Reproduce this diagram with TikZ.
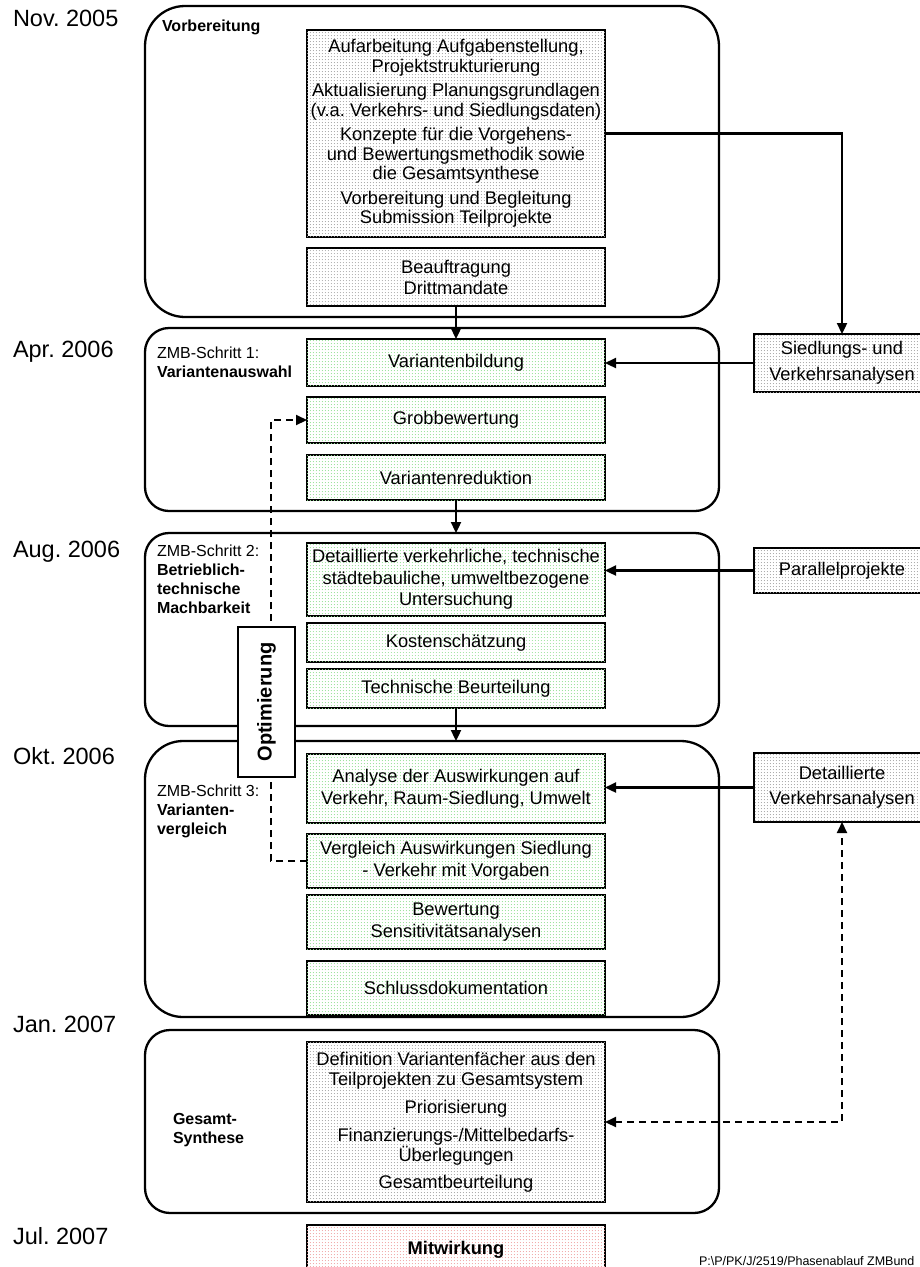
\documentclass[tikz,border=0pt]{standalone}
\usepackage{fontspec}
\setmainfont{Liberation Sans}
\usetikzlibrary{arrows.meta,patterns.meta}
\frenchspacing
\tikzdeclarepattern{name=dotgrid, type=uncolored, tile size={(3.4pt,3.4pt)}, bounding box={(0pt,0pt) and (3.4pt,3.4pt)}, code={\pgfpathcircle{\pgfqpoint{1.7pt}{1.7pt}}{0.6pt}\pgfusepath{fill}}}
\definecolor{dotgray}{RGB}{165,165,165}
\definecolor{dotgreen}{RGB}{150,225,150}
\definecolor{dotpink}{RGB}{240,165,165}
\begin{document}
\begin{tikzpicture}[x=1pt,y=-1pt,
  every node/.style={inner sep=0pt, outer sep=0pt},
  phase/.style={draw, line width=2.3pt, anchor=north west, minimum width=574pt},
  box/.style={draw, line width=2.3pt, anchor=north west, align=center, fill=white, minimum width=298pt, font=\fontsize{18.3}{20}\selectfont},
  graybox/.style={box, postaction={pattern=dotgrid, pattern color=dotgray}},
  greenbox/.style={box, postaction={pattern=dotgrid, pattern color=dotgreen}},
  pinkbox/.style={box, postaction={pattern=dotgrid, pattern color=dotpink}},
  sidebox/.style={graybox, minimum width=176pt},
  datelabel/.style={anchor=base west, font=\fontsize{23.5}{28}\selectfont},
  plabel/.style={anchor=base west, align=left, font=\fontsize{16}{19}\selectfont},
  arr/.style={line width=2.3pt, -{Triangle[length=11pt,width=10pt]}},
  dsh/.style={line width=2.1pt, dash pattern=on 7pt off 5pt},
]
\useasboundingbox (0,0) rectangle (920,1267);

% phases
\node[phase, rounded corners=40pt, minimum height=311pt] (ph1) at (145,6) {};
\node[phase, rounded corners=24pt, minimum height=183pt] (ph2) at (145,328) {};
\node[phase, rounded corners=24pt, minimum height=193pt] (ph3) at (145,533) {};
\node[phase, rounded corners=38pt, minimum height=276pt] (ph4) at (145,741) {};
\node[phase, rounded corners=25pt, minimum height=183pt] (ph5) at (145,1030) {};

% dates
\node[datelabel] (d1) at (13,26) {Nov. 2005};
\node[datelabel] (d2) at (13,357) {Apr. 2006};
\node[datelabel] (d3) at (13,557) {Aug. 2006};
\node[datelabel] (d4) at (13,764) {Okt. 2006};
\node[datelabel] (d5) at (13,1032) {Jan. 2007};
\node[datelabel] (d6) at (13,1244) {Jul. 2007};

% phase labels (anchor = baseline of last line)
\node[plabel, font=\bfseries\fontsize{16}{19}\selectfont] (l1) at (162,31) {Vorbereitung};
\node[plabel] (l2) at (157,377) {ZMB-Schritt 1:\\\textbf{Variantenauswahl}};
\node[plabel] (l3) at (157,613) {ZMB-Schritt 2:\\\textbf{Betrieblich-}\\\textbf{technische}\\\textbf{Machbarkeit}};
\node[plabel] (l4) at (157,834) {ZMB-Schritt 3:\\\textbf{Varianten-}\\\textbf{vergleich}};
\node[plabel, font=\bfseries\fontsize{16}{19}\selectfont] (l5) at (173,1143) {Gesamt-\\Synthese};

% inner boxes
\node[graybox, minimum height=207pt, font=\fontsize{18.3}{19.5}\selectfont] (vb) at (307,30)
  {Aufarbeitung Aufgabenstellung,\\Projektstrukturierung\\[5pt]Aktualisierung Planungsgrundlagen\\(v.a. Verkehrs- und Siedlungsdaten)\\[5pt]Konzepte für die Vorgehens-\\und Bewertungsmethodik sowie\\die Gesamtsynthese\\[5pt]Vorbereitung und Begleitung\\Submission Teilprojekte};
\node[graybox, minimum height=58pt, font=\fontsize{18.3}{21}\selectfont] (bf) at (307,248) {Beauftragung\\Drittmandate};

\node[greenbox, minimum height=47pt] (vbild) at (307,339) {Variantenbildung};
\node[greenbox, minimum height=46pt] (grob) at (307,397) {Grobbewertung};
\node[greenbox, minimum height=45pt] (vred) at (307,455) {Variantenreduktion};

\node[greenbox, minimum height=73pt, font=\fontsize{18.3}{21.5}\selectfont] (detu) at (307,543) {Detaillierte verkehrliche, technische\\städtebauliche, umweltbezogene\\Untersuchung};
\node[greenbox, minimum height=39pt] (kost) at (307,623) {Kostenschätzung};
\node[greenbox, minimum height=39pt] (tech) at (307,669) {Technische Beurteilung};

\node[greenbox, minimum height=69pt, font=\fontsize{18.3}{22}\selectfont] (anal) at (307,754) {Analyse der Auswirkungen auf\\Verkehr, Raum-Siedlung, Umwelt};
\node[greenbox, minimum height=54pt, font=\fontsize{18.3}{22}\selectfont] (verg) at (307,834) {Vergleich Auswirkungen Siedlung\\- Verkehr mit Vorgaben};
\node[greenbox, minimum height=54pt, font=\fontsize{18.3}{22}\selectfont] (bew) at (307,895) {Bewertung\\Sensitivitätsanalysen};
\node[greenbox, minimum height=54pt] (schl) at (307,961) {Schlussdokumentation};

\node[graybox, minimum height=160pt] (ges) at (307,1042)
  {Definition Variantenfächer aus den\\Teilprojekten zu Gesamtsystem\\[8pt]Priorisierung\\[8pt]Finanzierungs-/Mittelbedarfs-\\Überlegungen\\[7pt]Gesamtbeurteilung};
\node[pinkbox, minimum height=50pt, font=\bfseries\fontsize{18.3}{20}\selectfont] (mitw) at (307,1225) {Mitwirkung};

% side boxes
\node[sidebox, minimum height=58pt, font=\fontsize{18.3}{26}\selectfont] (sva) at (754,334) {Siedlungs- und\\Verkehrsanalysen};
\node[sidebox, minimum height=45pt] (pp) at (754,548) {Parallelprojekte};
\node[sidebox, minimum height=69pt, font=\fontsize{18.3}{25}\selectfont] (dva) at (754,753) {Detaillierte\\Verkehrsanalysen};

% connectors
\draw[arr] (bf.south) -- (vbild.north);
\draw[arr] (vb.east) -| (sva.north);
\draw[arr] (sva.west) -- (sva.west -| vbild.east);
\draw[arr] (vred.south) -- (vred.south |- ph3.north);
\draw[arr] (pp.west) -- (pp.west -| detu.east);
\draw[arr] (tech.south) -- (tech.south |- ph4.north);
\draw[arr] (dva.west) -- (dva.west -| anal.east);
\draw[dsh, {Triangle[length=11pt,width=10pt]}-{Triangle[length=11pt,width=10pt]}] (ges.east) -| (dva.south);
\draw[dsh, -{Triangle[length=11pt,width=10pt]}] (verg.west) -- ++(-36,0) |- (grob.west);

% Optimierung
\node[draw, line width=1.8pt, fill=white, rotate=90, minimum width=150pt, minimum height=57pt, font=\bfseries\fontsize{20}{24}\selectfont] (opt) at (266.5,702) {Optimierung};

% footer path
\node[anchor=base west, font=\fontsize{12.5}{14}\selectfont] (fpath) at (699,1265) {P:\textbackslash P/PK/J/2519/Phasenablauf ZMBund};
\end{tikzpicture}
\end{document}
